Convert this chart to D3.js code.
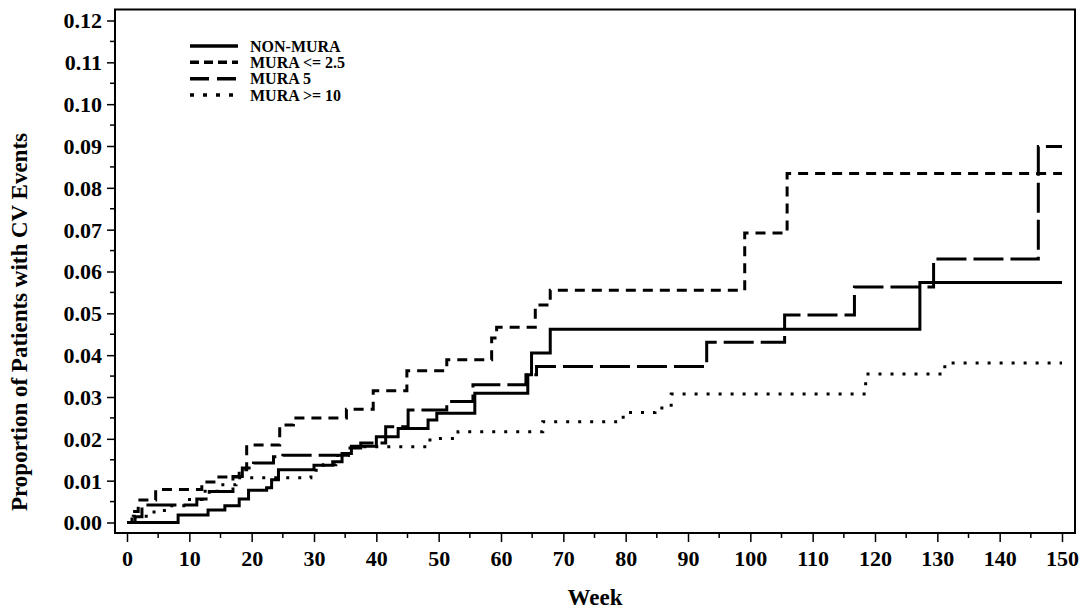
<!DOCTYPE html>
<html>
<head>
<meta charset="utf-8">
<script src="https://cdn.jsdelivr.net/npm/d3@7"></script>
<style>
  body { margin: 0; background: #fff; }
  text { font-family: "Liberation Serif", "Times New Roman", serif; font-weight: bold; fill: #000; }
</style>
</head>
<body>
<div class="canvas"></div>
<script>
// step data: week at which each step starts, and proportion after it
const nonMuraWeeks = [0, 8.2, 13, 15.7, 18, 19.5, 22.4, 23.2, 24.3, 30, 33, 34.5, 36, 40, 43.5, 48.3, 49.7, 55.8, 64.3, 64.9, 67.9, 127.2];
const nonMuraProp  = [0, 0.0018, 0.003, 0.004, 0.0056, 0.0077, 0.0083, 0.0102, 0.0126, 0.0137, 0.0145, 0.0165, 0.0182, 0.0205, 0.0225, 0.0245, 0.0261, 0.0309, 0.0353, 0.0405, 0.0462, 0.0574];

const mura25Weeks = [0, 0.8, 1.8, 4.6, 12, 14.5, 18, 19.2, 24.5, 26.7, 35.2, 39.5, 44.9, 51.3, 58.5, 59.3, 65.5, 67.9, 99.1, 105.9];
const mura25Prop  = [0, 0.0026, 0.0054, 0.0079, 0.0097, 0.0109, 0.0126, 0.0185, 0.0233, 0.025, 0.0271, 0.0315, 0.0363, 0.0389, 0.0441, 0.0467, 0.052, 0.0555, 0.0692, 0.0834];

const mura5Weeks = [0, 1.3, 2.4, 11.2, 13.2, 17, 18.5, 20.3, 23.5, 25, 35.5, 37.5, 41.5, 45.1, 51.3, 55.5, 64, 65.7, 93, 105.5, 116.7, 129.4, 146.2];
const mura5Prop  = [0, 0.0014, 0.0042, 0.0056, 0.0074, 0.011, 0.013, 0.0142, 0.0157, 0.0161, 0.0178, 0.019, 0.0229, 0.0269, 0.0289, 0.0329, 0.0353, 0.0373, 0.0431, 0.0496, 0.0563, 0.063, 0.0899];

const mura10Weeks = [0, 1, 3.5, 6, 9.5, 12, 15, 17.5, 29.5, 31.5, 33.5, 35.5, 48.6, 53.1, 66.7, 79.6, 84.7, 87.3, 118.5, 131.2];
const mura10Prop  = [0, 0.0015, 0.0025, 0.004, 0.0055, 0.0075, 0.009, 0.0107, 0.0125, 0.0138, 0.016, 0.0181, 0.0201, 0.0217, 0.0241, 0.0263, 0.0274, 0.0307, 0.0355, 0.0381];

const seriesNames = ['NON-MURA', 'MURA <= 2.5', 'MURA 5', 'MURA >= 10'];
const lastWeek = 150;

const xTicks = d3.range(0, 151, 10);
const xMinor = d3.range(5, 150, 10);
const yTicks = d3.range(0, 0.1201, 0.01);
const yMinor = d3.range(0.005, 0.12, 0.01);

const W = 1091, H = 611;
const frame = { left: 115, right: 1075, top: 9.5, bottom: 533 };

const svg = d3.select('.canvas')
  .append('svg')
  .attr('width', W)
  .attr('height', H);

const x = d3.scaleLinear().domain([0, 150]).range([127, 1062]);
const y = d3.scaleLinear().domain([0, 0.12]).range([522.5, 20.5]);

// frame
svg.append('rect')
  .attr('x', frame.left)
  .attr('y', frame.top)
  .attr('width', frame.right - frame.left)
  .attr('height', frame.bottom - frame.top)
  .attr('fill', 'none')
  .attr('stroke', '#000')
  .attr('stroke-width', 2);

// y axis
const yAxis = svg.append('g')
  .attr('transform', `translate(${frame.left},0)`)
  .call(d3.axisLeft(y).tickValues(yTicks).tickFormat(d3.format('.2f')).tickSize(8).tickPadding(5));
yAxis.select('.domain').remove();
yAxis.selectAll('text').style('font-size', '22px').attr('dy', '0.34em');
yAxis.selectAll('line').attr('stroke-width', 1.5);

svg.append('g')
  .selectAll('line')
  .data(yMinor)
  .enter()
  .append('line')
  .attr('x1', frame.left - 5)
  .attr('x2', frame.left)
  .attr('y1', d => y(d))
  .attr('y2', d => y(d))
  .attr('stroke', '#000')
  .attr('stroke-width', 1.5);

// x axis
const xAxis = svg.append('g')
  .attr('transform', `translate(0,${frame.bottom})`)
  .call(d3.axisBottom(x).tickValues(xTicks).tickSize(9).tickPadding(6));
xAxis.select('.domain').remove();
xAxis.selectAll('text').style('font-size', '22px').attr('dy', '0.82em');
xAxis.selectAll('line').attr('stroke-width', 1.5);

svg.append('g')
  .selectAll('line')
  .data(xMinor)
  .enter()
  .append('line')
  .attr('x1', d => x(d))
  .attr('x2', d => x(d))
  .attr('y1', frame.bottom)
  .attr('y2', frame.bottom + 5)
  .attr('stroke', '#000')
  .attr('stroke-width', 1.5);

// axis titles
svg.append('text')
  .attr('x', (frame.left + frame.right) / 2)
  .attr('y', 605)
  .attr('text-anchor', 'middle')
  .style('font-size', '23px')
  .text('Week');

svg.append('text')
  .attr('transform', 'translate(27,322) rotate(-90)')
  .attr('text-anchor', 'middle')
  .style('font-size', '23px')
  .text('Proportion of Patients with CV Events');

// curves
const toPoints = (weeks, prop) => {
  const pts = weeks.map((w, i) => [w, prop[i]]);
  pts.push([lastWeek, prop[prop.length - 1]]);
  return pts;
};

const series = [
  { name: seriesNames[0], pts: toPoints(nonMuraWeeks, nonMuraProp), dash: null, legendDash: null },
  { name: seriesNames[1], pts: toPoints(mura25Weeks, mura25Prop), dash: '10,7', legendDash: '9,5' },
  { name: seriesNames[2], pts: toPoints(mura5Weeks, mura5Prop), dash: '30,7', legendDash: '19,8' },
  { name: seriesNames[3], pts: toPoints(mura10Weeks, mura10Prop), dash: '3,9', legendDash: '4,9' }
];

const line = d3.line()
  .x(d => x(d[0]))
  .y(d => y(d[1]))
  .curve(d3.curveStepAfter);

svg.append('g')
  .selectAll('path')
  .data(series)
  .enter()
  .append('path')
  .attr('d', d => line(d.pts))
  .attr('fill', 'none')
  .attr('stroke', '#000')
  .attr('stroke-width', 3)
  .attr('stroke-dasharray', d => d.dash);

// legend
const legend = svg.append('g');
const rowY = d3.scaleLinear().domain([0, 3]).range([46, 95]);
const rows = legend.selectAll('g')
  .data(series)
  .enter()
  .append('g')
  .attr('transform', (d, i) => `translate(0,${rowY(i)})`);

rows.append('line')
  .attr('x1', 190)
  .attr('x2', 238)
  .attr('stroke', '#000')
  .attr('stroke-width', 3.5)
  .attr('stroke-dasharray', d => d.legendDash);

rows.append('text')
  .attr('x', 250)
  .attr('dy', '0.35em')
  .style('font-size', '16px')
  .text(d => d.name);
</script>
</body>
</html>
